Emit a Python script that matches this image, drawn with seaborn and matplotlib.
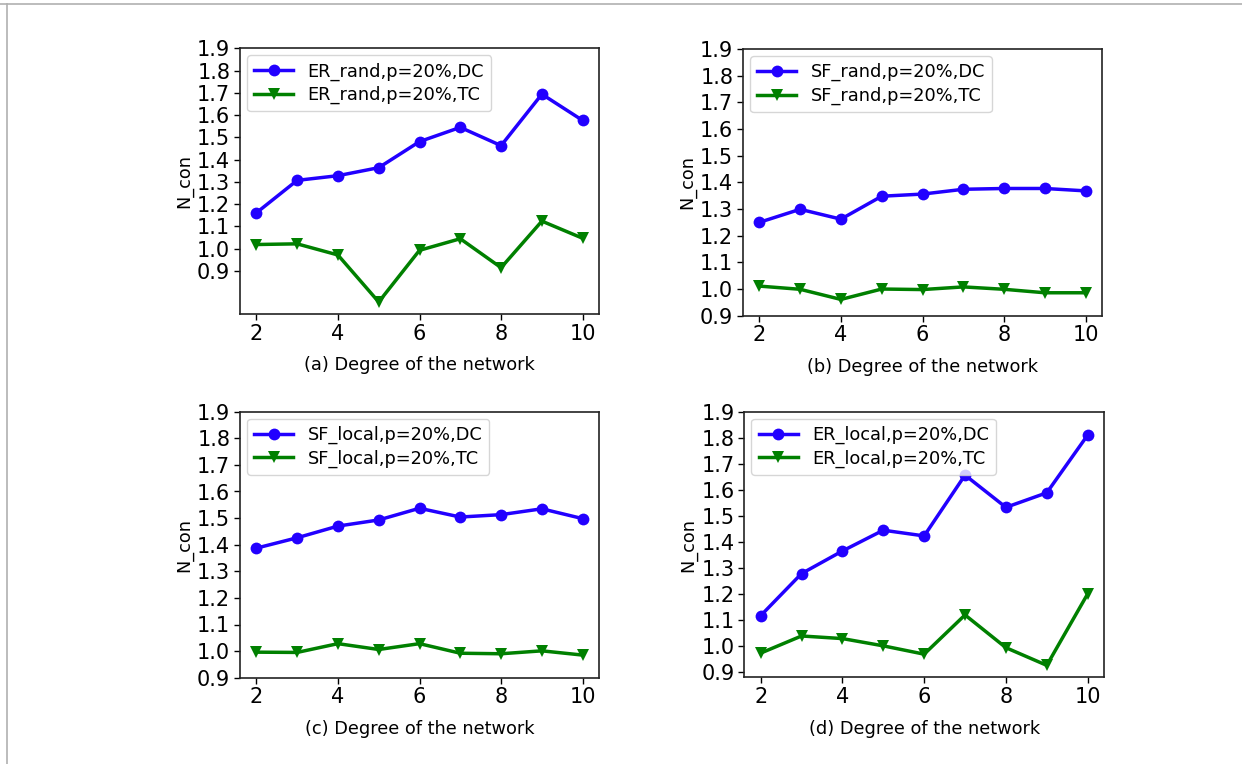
import matplotlib
matplotlib.use("Agg")
import matplotlib.pyplot as plt
import seaborn as sns
import pandas as pd
from matplotlib.lines import Line2D

degrees = [2, 3, 4, 5, 6, 7, 8, 9, 10]

er_rand_dc = [1.161, 1.307, 1.328, 1.364, 1.481, 1.545, 1.463, 1.694, 1.576]
er_rand_tc = [1.019, 1.022, 0.972, 0.761, 0.993, 1.045, 0.915, 1.124, 1.047]

sf_rand_dc = [1.250, 1.299, 1.262, 1.348, 1.356, 1.374, 1.377, 1.377, 1.368]
sf_rand_tc = [1.011, 0.999, 0.961, 1.000, 0.998, 1.008, 0.999, 0.986, 0.986]

sf_local_dc = [1.387, 1.426, 1.470, 1.493, 1.537, 1.504, 1.513, 1.535, 1.498]
sf_local_tc = [0.996, 0.995, 1.028, 1.006, 1.028, 0.992, 0.990, 1.001, 0.985]

er_local_dc = [1.115, 1.277, 1.364, 1.444, 1.422, 1.656, 1.532, 1.588, 1.810]
er_local_tc = [0.971, 1.037, 1.027, 0.999, 0.967, 1.118, 0.992, 0.924, 1.199]

panels = [
    ("ER_rand", er_rand_dc, er_rand_tc, "(a) Degree of the network"),
    ("SF_rand", sf_rand_dc, sf_rand_tc, "(b) Degree of the network"),
    ("SF_local", sf_local_dc, sf_local_tc, "(c) Degree of the network"),
    ("ER_local", er_local_dc, er_local_tc, "(d) Degree of the network"),
]
ylims = [(0.707, 1.9), (0.9, 1.9), (0.9, 1.9), (0.878, 1.9)]
yticks = [0.9, 1.0, 1.1, 1.2, 1.3, 1.4, 1.5, 1.6, 1.7, 1.8, 1.9]
xticks = [2, 4, 6, 8, 10]

W, H = 1242, 764
fig = plt.figure(figsize=(W / 100, H / 100), dpi=100)
rects_px = [(240, 48.3, 599, 314), (743, 49, 1102, 315.7),
            (240, 411.7, 599, 677.7), (744.3, 411.7, 1104, 677.3)]

for (name, dc, tc, xl), (l, t, r, b), yl in zip(panels, rects_px, ylims):
    ax = fig.add_axes([l / W, (H - b) / H, (r - l) / W, (b - t) / H])
    lab_dc = f"{name},p=20%,DC"
    lab_tc = f"{name},p=20%,TC"
    df = pd.DataFrame({
        "x": degrees + degrees,
        "y": dc + tc,
        "series": [lab_dc] * len(degrees) + [lab_tc] * len(degrees),
    })
    sns.lineplot(data=df, x="x", y="y", hue="series", style="series",
                 palette={lab_dc: "#2200ff", lab_tc: "green"},
                 markers={lab_dc: "o", lab_tc: "v"}, dashes=False,
                 markersize=8.5, linewidth=2.5, markeredgewidth=0, ax=ax,
                 legend=False)
    handles = [
        Line2D([], [], color="#2200ff", marker="o", markersize=8.5, linewidth=2.5, markeredgewidth=0),
        Line2D([], [], color="green", marker="v", markersize=8.5, linewidth=2.5, markeredgewidth=0),
    ]
    leg = ax.legend(handles, [lab_dc, lab_tc], loc="upper left", fontsize=12.8,
                    handlelength=2.2, borderaxespad=0.4, labelspacing=0.3)
    leg.set_zorder(10)
    ax.set_xlim(1.6, 10.4)
    ax.set_ylim(*yl)
    ax.set_xticks(xticks)
    ax.set_yticks(yticks)
    ax.set_yticklabels([f"{v:.1f}" for v in yticks])
    ax.tick_params(labelsize=15, length=4, width=1, pad=3)
    ax.set_xlabel(xl, fontsize=12.8, labelpad=9)
    ax.set_ylabel("N_con", fontsize=12.7, labelpad=3)
    for s in ax.spines.values():
        s.set_visible(True)
        s.set_linewidth(1.2)
        s.set_color("#222222")

# thin gray frame lines of the page
fig.add_artist(Line2D([0, 1], [1 - 4 / H, 1 - 4 / H], transform=fig.transFigure,
                      color="#b0b0b0", linewidth=1.2))
fig.add_artist(Line2D([7 / W, 7 / W], [0, 1 - 4 / H], transform=fig.transFigure,
                      color="#b0b0b0", linewidth=1.2))

fig.savefig("out.png", dpi=100, facecolor="white")
